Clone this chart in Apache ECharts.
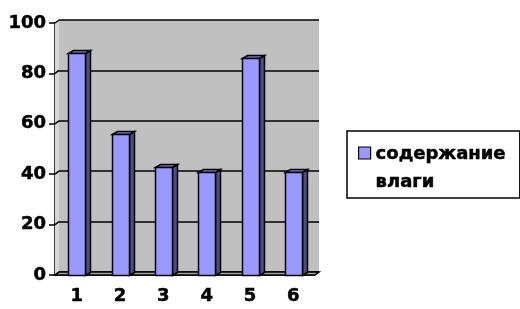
<!DOCTYPE html>
<html>
<head>
<meta charset="utf-8">
<script src="https://cdn.jsdelivr.net/npm/echarts@6/dist/echarts.min.js"></script>
<style>
html, body { margin: 0; padding: 0; background: #fff; }
#chart { width: 520px; height: 309px; }
</style>
</head>
<body>
<div id="chart"></div>
<script>
// data
var categories = ['1', '2', '3', '4', '5', '6'];
var moisture = [88, 56, 43, 41, 86, 41];
var yTicks = [0, 20, 40, 60, 80, 100];
var seriesName = 'содержание влаги';

var FONT = 'DejaVu Sans';
var DX = 4, DY = -3;   // depth of back wall

var line = { stroke: '#000', lineWidth: 1.5 };
var txt = { color: '#000', fontFamily: FONT, fontWeight: 'bold', fontSize: 18,
            textBorderColor: '#000', textBorderWidth: 0.5 };

// 3d looking bar: front face, side face, top face
function bar3d(params, api) {
  var i = api.value(0), v = api.value(1);
  var top = api.coord([i, v]);
  var base = api.coord([i, 0]);
  var w = Math.round(api.size([1, 0])[0] * 0.39);
  var x0 = Math.round(top[0] - w / 2) + 0.5, x1 = x0 + w;
  var yt = Math.round(top[1]) + 0.5, yb = Math.round(base[1]) + 0.5;
  var bx = 5, by = -3;
  return {
    type: 'group',
    children: [
      { type: 'polygon', shape: { points: [[x1, yt], [x1 + bx, yt + by], [x1 + bx, yb + by], [x1, yb]] },
        style: Object.assign({ fill: '#4d4d86' }, line) },
      { type: 'polygon', shape: { points: [[x0, yt], [x0 + bx, yt + by], [x1 + bx, yt + by], [x1, yt]] },
        style: Object.assign({ fill: '#7777cc' }, line) },
      { type: 'rect', shape: { x: x0, y: yt, width: w, height: yb - yt },
        style: Object.assign({ fill: '#9999ff' }, line) }
    ]
  };
}

// floor strip, left side wall and the gridline bits on it
function frame(params, api) {
  var half = api.size([1, 0])[0] / 2;
  var p0 = api.coord([0, 0]);
  var pn = api.coord([categories.length - 1, 0]);
  var pt = api.coord([0, 100]);
  var xl = p0[0] - half, xr = pn[0] + half, yb = p0[1], yt = pt[1];
  var kids = [
    { type: 'polygon', shape: { points: [[xl, yb], [xl + DX, yb + DY], [xl + DX, yt + DY], [xl, yt]] },
      style: { fill: '#d6d6d6', stroke: null } },
    { type: 'polygon', shape: { points: [[xl, yb], [xl + DX, yb + DY], [xr + DX, yb + DY], [xr, yb]] },
      style: Object.assign({ fill: '#a6a6a6' }, line) }
  ];
  yTicks.forEach(function (t) {
    var y = api.coord([0, t])[1];
    kids.push({ type: 'line', shape: { x1: xl, y1: y, x2: xl + DX, y2: y + DY }, style: line });
  });
  return { type: 'group', children: kids };
}

var chart = echarts.init(document.getElementById('chart'));
chart.setOption({
  animation: false,
  backgroundColor: '#fff',
  grid: [
    // back wall
    { left: 55 + DX, right: 205 - DX, top: 23 + DY, bottom: 34 - DY,
      show: true, backgroundColor: '#c0c0c0', borderWidth: 0 },
    // front plane with the axes
    { left: 55, right: 205, top: 23, bottom: 34 }
  ],
  xAxis: [
    { gridIndex: 0, type: 'category', data: categories, show: false },
    { gridIndex: 1, type: 'category', data: categories,
      axisLine: { lineStyle: { color: '#000', width: 1.5 } },
      axisTick: { length: 6, lineStyle: { color: '#000', width: 1.5 } },
      axisLabel: Object.assign({ margin: 12 }, txt),
      splitLine: { show: false } }
  ],
  yAxis: [
    { gridIndex: 0, type: 'value', min: 0, max: 100, interval: 20,
      axisLine: { show: false }, axisTick: { show: false }, axisLabel: { show: false },
      splitLine: { show: true, lineStyle: { color: '#000', width: 1.5 } } },
    { gridIndex: 1, type: 'value', min: 0, max: 100, interval: 20,
      axisLine: { show: true, lineStyle: { color: '#000', width: 1.5 } },
      axisTick: { show: true, length: 6, lineStyle: { color: '#000', width: 1.5 } },
      axisLabel: Object.assign({ margin: 9 }, txt),
      splitLine: { show: false } }
  ],
  legend: {
    left: 347, top: 131,
    orient: 'vertical',
    padding: [9, 14, 2, 11],
    borderColor: '#000', borderWidth: 1.5,
    itemWidth: 12, itemHeight: 42,
    data: [{ name: seriesName, icon: 'path://M0,0H12V12H0Z M0,42' }],
    itemStyle: { color: '#9999ff', borderColor: '#000', borderWidth: 1.2 },
    formatter: function () { return 'содержание\nвлаги'; },
    textStyle: Object.assign({ lineHeight: 28 }, txt)
  },
  series: [
    { name: 'frame', type: 'custom', xAxisIndex: 1, yAxisIndex: 1, silent: true,
      renderItem: frame, data: [[0, 0]] },
    { name: seriesName, type: 'custom', xAxisIndex: 1, yAxisIndex: 1,
      itemStyle: { color: '#9999ff', borderColor: '#000', borderWidth: 1 },
      renderItem: bar3d,
      data: moisture.map(function (v, i) { return [i, v]; }) }
  ]
});
</script>
</body>
</html>
